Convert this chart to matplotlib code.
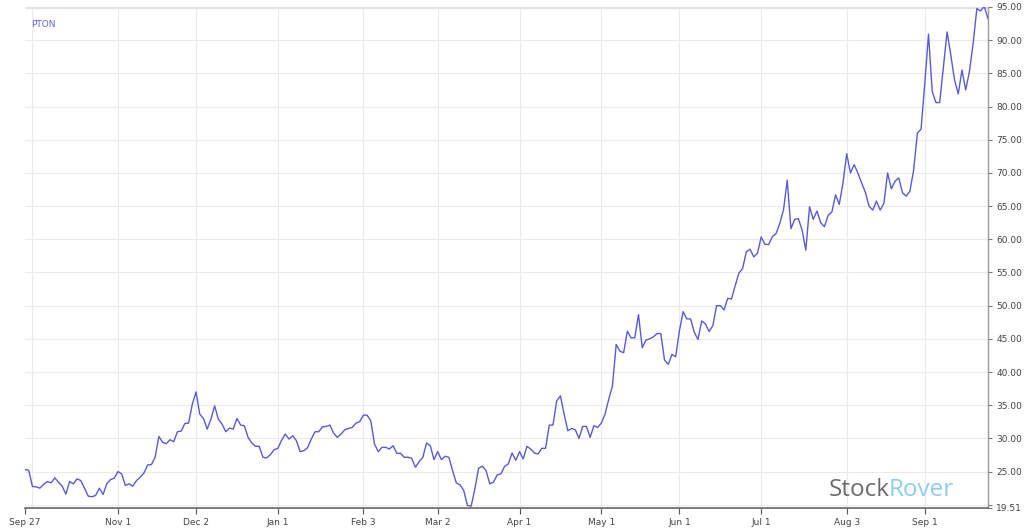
import numpy as np
import matplotlib
matplotlib.use("Agg")
import matplotlib.pyplot as plt

# PTON daily close, one value per weekday starting Sep 27 2019
ticker = "PTON"
start_day = "2019-09-27"
prices = [
    25.3, 25.2, 22.75, 22.7, 22.5, 23.05, 23.5, 23.3, 24.05, 23.4,
    22.8, 21.6, 23.5, 23.15, 23.9, 23.65, 22.5, 21.3, 21.2, 21.4,
    22.5, 21.55, 23.15, 23.8, 24.0, 25.0, 24.65, 22.9, 23.15, 22.8,
    23.65, 24.15, 24.8, 26.0, 26.05, 27.15, 30.3, 29.4, 29.2, 29.8,
    29.5, 31.0, 31.1, 32.25, 32.3, 35.15, 37.0, 33.65, 33.0, 31.4,
    32.9, 34.9, 32.9, 32.15, 31.0, 31.55, 31.4, 33.0, 32.0, 31.9,
    30.15, 29.3, 28.8, 28.8, 27.15, 27.05, 27.55, 28.3, 28.5, 29.7,
    30.65, 29.9, 30.4, 29.65, 28.0, 28.15, 28.6, 29.9, 31.0, 31.0,
    31.75, 31.8, 32.0, 30.8, 30.15, 30.65, 31.3, 31.5, 31.65, 32.3,
    32.5, 33.5, 33.5, 32.65, 29.15, 28.0, 28.65, 28.65, 28.4, 28.9,
    27.75, 27.75, 27.15, 27.15, 27.0, 25.65, 26.5, 27.15, 29.3, 28.9,
    26.8, 28.0, 26.8, 27.3, 27.15, 25.15, 23.3, 23.0, 22.15, 19.9,
    19.8, 22.4, 25.5, 25.8, 25.15, 23.15, 23.4, 24.5, 24.65, 25.8,
    26.15, 27.8, 26.7, 28.0, 26.9, 28.8, 28.4, 27.8, 27.65, 28.5,
    28.5, 32.0, 32.0, 35.65, 36.4, 33.65, 31.15, 31.5, 31.3, 30.0,
    31.8, 31.8, 30.15, 31.9, 31.65, 32.3, 33.65, 35.9, 37.9, 44.15,
    43.15, 42.9, 46.15, 45.15, 45.15, 48.65, 43.65, 44.8, 45.0, 45.3,
    45.8, 45.8, 41.8, 41.15, 42.65, 42.3, 46.2, 49.1, 48.0, 48.0,
    46.0, 44.9, 47.7, 47.25, 46.1, 47.0, 50.0, 50.0, 49.35, 51.1,
    51.0, 53.0, 54.9, 55.6, 58.1, 58.5, 57.35, 57.9, 60.35, 59.25,
    59.2, 60.4, 60.85, 62.4, 64.4, 68.9, 61.6, 63.0, 63.1, 61.4,
    58.35, 64.9, 63.0, 64.25, 62.5, 61.9, 63.6, 64.1, 66.7, 65.25,
    68.5, 72.9, 70.0, 71.25, 70.0, 68.5, 67.1, 65.0, 64.4, 65.75,
    64.4, 65.4, 70.0, 67.6, 68.75, 69.25, 67.0, 66.5, 67.25, 70.4,
    76.0, 76.6, 83.5, 90.9, 82.25, 80.6, 80.6, 86.0, 91.25, 87.75,
    84.0, 81.9, 85.5, 82.5, 85.25, 89.5, 94.75, 94.4, 95.1, 93.25,
]
tick_dates = ["2019-09-27", "2019-11-01", "2019-12-02", "2020-01-01", "2020-02-03",
              "2020-03-02", "2020-04-01", "2020-05-01", "2020-06-01", "2020-07-01",
              "2020-08-03", "2020-09-01"]
tick_labels = ["Sep 27", "Nov 1", "Dec 2", "Jan 1", "Feb 3", "Mar 2",
               "Apr 1", "May 1", "Jun 1", "Jul 1", "Aug 3", "Sep 1"]
y_min, y_max = 19.51, 95.0

x = np.arange(len(prices))
tick_pos = [np.busday_count(start_day, d) for d in tick_dates]

fig = plt.figure(figsize=(10.24, 5.29), dpi=100)
ax = fig.add_axes([25/1024, 1-508/529, 963/1024, 501/529])

grid_c = "#ebebeb"
# vertical grid (first one sits a little right of the Sep 27 label)
for p in [1.8] + tick_pos[1:]:
    ax.axvline(p, color=grid_c, lw=0.8, zorder=0)
for v in np.arange(20, 95.1, 5):
    ax.axhline(v, color=grid_c, lw=0.8, zorder=0)
ax.axhline(y_max, color="#e2e2e2", lw=2.2, zorder=0)

ax.plot(x, prices, color="#5a5ad8", lw=1.0, zorder=3)

ax.set_xlim(0, len(prices) - 1)
ax.set_ylim(y_min, y_max)

ax.set_xticks(tick_pos)
ax.set_xticklabels(tick_labels, fontsize=6.5, color="#444444")
ax.tick_params(axis="x", length=4, width=0.8, color="#555555", pad=3)

yt = [y_min] + list(np.arange(20, 95.1, 5))
ax.yaxis.tick_right()
ax.set_yticks(yt)
ax.set_yticklabels(["%.2f" % y_min, ""] + ["%.2f" % v for v in yt[2:]],
                   fontsize=6.5, color="#444444")
ax.tick_params(axis="y", length=3, width=0.8, color="#777777", pad=3)

for s in ["left", "top"]:
    ax.spines[s].set_visible(False)
ax.spines["bottom"].set_color("#666666")
ax.spines["bottom"].set_linewidth(1.2)
ax.spines["right"].set_color("#999999")
ax.spines["right"].set_linewidth(1.0)

ax.text(0.006, 0.975, ticker, transform=ax.transAxes, fontsize=6.5,
        color="#6464dc", va="top", ha="left")

# watermark
t1 = fig.text(829/1024, 1-496/529, "Stock", fontsize=17.5, color="#6b6b6b",
              family="Open Sans", va="baseline", ha="left")
fig.canvas.draw()
bb = t1.get_window_extent()
fig.text((bb.x1 - 1)/1024, 1-496/529, "Rover", fontsize=17.5, color="#8ecdf0",
         family="Open Sans", va="baseline", ha="left")

fig.savefig("out.png", dpi=100)
